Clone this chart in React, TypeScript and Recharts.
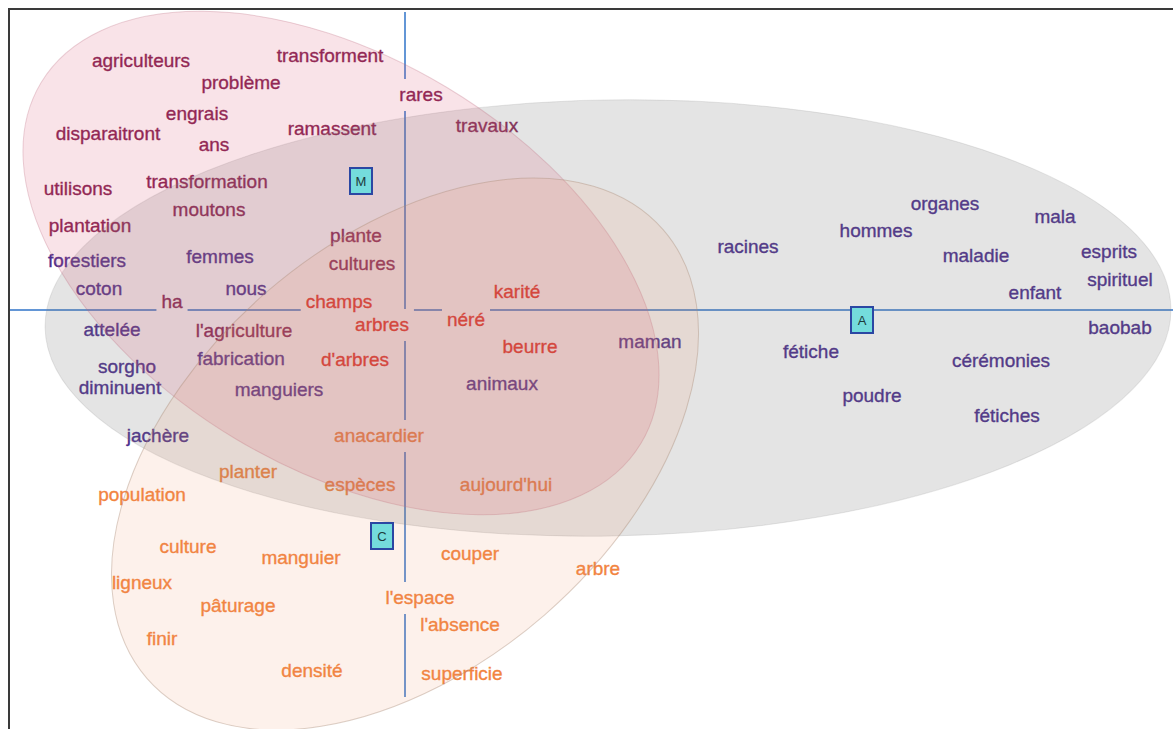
import React from "react";
import { ComposedChart, XAxis, YAxis, Line, Scatter } from "recharts";

// plan factoriel : axe 1 horizontal, axe 2 vertical
const W = 1163;
const H = 719;
const X_MIN = -3.95;
const X_MAX = 7.68;
const Y_MIN = -4.19;
const Y_MAX = 3.0;
const PX = W / (X_MAX - X_MIN);

// classe M
const motsM = ["agriculteurs", "transforment", "problème", "engrais", "disparaitront", "ans", "ramassent", "rares", "travaux", "utilisons", "transformation", "moutons", "plantation", "plante", "cultures", "ha", "l'agriculture"];
const xM = [-2.64, -0.75, -1.64, -2.08, -2.97, -1.91, -0.73, 0.16, 0.82, -3.27, -1.98, -1.96, -3.15, -0.49, -0.43, -2.33, -1.61];
const yM = [2.49, 2.54, 2.27, 1.96, 1.76, 1.65, 1.81, 2.15, 1.84, 1.21, 1.28, 1.0, 0.84, 0.74, 0.46, 0.08, -0.21];

// classe A
const motsA = ["forestiers", "femmes", "coton", "nous", "attelée", "fabrication", "sorgho", "diminuent", "manguiers", "jachère", "animaux", "maman", "racines", "fétiche", "organes", "mala", "hommes", "maladie", "esprits", "spirituel", "enfant", "baobab", "cérémonies", "poudre", "fétiches"];
const xA = [-3.18, -1.85, -3.06, -1.59, -2.93, -1.64, -2.78, -2.85, -1.26, -2.47, 0.97, 2.45, 3.43, 4.06, 5.4, 6.5, 4.71, 5.71, 7.04, 7.15, 6.3, 7.15, 5.96, 4.67, 6.02];
const yA = [0.49, 0.53, 0.21, 0.21, -0.2, -0.49, -0.57, -0.78, -0.8, -1.26, -0.74, -0.32, 0.63, -0.42, 1.06, 0.93, 0.79, 0.54, 0.58, 0.3, 0.17, -0.18, -0.51, -0.86, -1.06];

// mots communs
const motsMC = ["champs", "arbres", "d'arbres", "karité", "néré", "beurre"];
const xMC = [-0.66, -0.23, -0.5, 1.12, 0.61, 1.25];
const yMC = [0.08, -0.15, -0.5, 0.18, -0.1, -0.37];

// classe C
const motsC = ["anacardier", "planter", "espèces", "aujourd'hui", "population", "culture", "manguier", "couper", "arbre", "ligneux", "l'espace", "pâturage", "l'absence", "finir", "densité", "superficie"];
const xC = [-0.26, -1.57, -0.45, 1.01, -2.63, -2.17, -1.04, 0.65, 1.93, -2.63, 0.15, -1.67, 0.55, -2.43, -0.93, 0.57];
const yC = [-1.26, -1.62, -1.75, -1.75, -1.85, -2.37, -2.48, -2.44, -2.59, -2.73, -2.88, -2.96, -3.15, -3.29, -3.61, -3.64];

// centres de classes
const classes = ["M", "A", "C"];
const xClasses = [-0.44, 4.57, -0.23];
const yClasses = [1.29, -0.1, -2.26];

// ellipses : centre, demi-axes, angle (degrés)
const ellX = [2.03, -0.64, 0.0];
const ellY = [-0.08, 0.47, -1.44];
const ellA = [5.63, 3.5, 3.42];
const ellB = [2.18, 2.05, 2.13];
const ellAngle = [1, -31, 41];
const ellClasse = ["A", "M", "C"];

// axes
const axeH = [{ x: X_MIN, y: 0 }, { x: X_MAX, y: 0 }];
const axeV = [{ x: 0, y: 2.98 }, { x: 0, y: -3.87 }];

const textColors: Record<string, string> = {
  M: "#861e50",
  A: "#4a2c8c",
  MC: "#e62c1c",
  C: "#f2843f",
};
const ellStyle: Record<string, { fill: string; alpha: number; stroke: string }> = {
  A: { fill: "rgb(120,120,120)", alpha: 0.2, stroke: "rgba(140,140,140,0.2)" },
  M: { fill: "rgb(215,80,115)", alpha: 0.16, stroke: "rgba(190,110,130,0.3)" },
  C: { fill: "rgb(235,140,90)", alpha: 0.12, stroke: "rgba(170,140,120,0.4)" },
};

const FONT = "'Liberation Sans', Arial, sans-serif";
const FS = 19;

const pts = (mots: string[], xs: number[], ys: number[], classe: string) =>
  mots.map((mot, i) => ({ x: xs[i], y: ys[i], mot, classe }));

const mots = [
  ...pts(motsM, xM, yM, "M"),
  ...pts(motsA, xA, yA, "A"),
  ...pts(motsMC, xMC, yMC, "MC"),
  ...pts(motsC, xC, yC, "C"),
];
const centres = classes.map((c, i) => ({ x: xClasses[i], y: yClasses[i], classe: c }));
const ellipses = ellClasse.map((c, i) => ({
  x: ellX[i], y: ellY[i], a: ellA[i], b: ellB[i], angle: ellAngle[i], classe: c,
}));

let ctx: CanvasRenderingContext2D | null = null;
function measure(t: string): number {
  if (!ctx) ctx = document.createElement("canvas").getContext("2d");
  if (!ctx) return t.length * FS * 0.5;
  ctx.font = `${FS}px 'Liberation Sans'`;
  return ctx.measureText(t).width;
}

// fond blanc derrière chaque mot : coupe les axes comme dans l'original
const WordBg = (props: any) => {
  const { cx, cy, payload } = props;
  const w = measure(payload.mot) + 10;
  return <rect x={cx - w / 2} y={cy - 16} width={w} height={32} fill="#fff" />;
};

const WordText = (props: any) => {
  const { cx, cy, payload } = props;
  const c = textColors[payload.classe];
  return (
    <text
      x={cx}
      y={cy}
      dy="0.33em"
      textAnchor="middle"
      fontSize={FS}
      fontFamily={FONT}
      fill={c}
      stroke={c}
      strokeWidth={0.35}
    >
      {payload.mot}
    </text>
  );
};

const EllipseShape = (props: any) => {
  const { cx, cy, payload } = props;
  const s = ellStyle[payload.classe];
  return (
    <ellipse
      cx={cx}
      cy={cy}
      rx={payload.a * PX}
      ry={payload.b * PX}
      transform={`rotate(${-payload.angle} ${cx} ${cy})`}
      fill={s.fill}
      fillOpacity={s.alpha}
      stroke={s.stroke}
      strokeWidth={1}
    />
  );
};

const CentreShape = (props: any) => {
  const { cx, cy, payload } = props;
  return (
    <g>
      <rect x={cx - 11} y={cy - 13} width={22} height={26} fill="#74dcdc" stroke="#2b47a3" strokeWidth={2} />
      <text x={cx} y={cy} dy="0.35em" textAnchor="middle" fontSize={13} fontFamily={FONT} fill="#1d3a3a">
        {payload.classe}
      </text>
    </g>
  );
};

export default function App() {
  return (
    <div style={{ padding: "8px 0 0 8px" }}>
      <style>{"body{margin:0;overflow:hidden;background:#fff}"}</style>
      <div
        style={{
          width: W + 2,
          height: H + 2,
          borderLeft: "2px solid #3a3a3a",
          borderTop: "2px solid #3a3a3a",
          boxSizing: "border-box",
        }}
      >
        <ComposedChart width={W} height={H} margin={{ top: 0, right: 0, bottom: 0, left: 0 }}>
          <XAxis type="number" dataKey="x" domain={[X_MIN, X_MAX]} hide allowDataOverflow />
          <YAxis type="number" dataKey="y" domain={[Y_MIN, Y_MAX]} hide allowDataOverflow />
          <Line data={axeH} dataKey="y" stroke="#6396d6" strokeWidth={2} dot={false} isAnimationActive={false} />
          <Line data={axeV} dataKey="y" stroke="#6396d6" strokeWidth={2} dot={false} isAnimationActive={false} />
          <Scatter data={mots} shape={WordBg} isAnimationActive={false} />
          <Scatter data={mots} shape={WordText} isAnimationActive={false} />
          <Scatter data={ellipses} shape={EllipseShape} isAnimationActive={false} />
          <Scatter data={centres} shape={CentreShape} isAnimationActive={false} />
        </ComposedChart>
      </div>
    </div>
  );
}
